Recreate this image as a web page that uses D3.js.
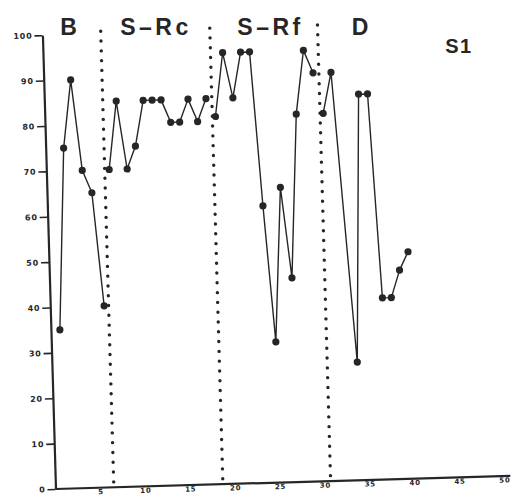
<!DOCTYPE html>
<html>
<head>
<meta charset="utf-8">
<script src="https://cdn.jsdelivr.net/npm/d3@7"></script>
<style>
  html, body { margin: 0; padding: 0; background: #fff; }
  svg { display: block; }
</style>
</head>
<body>
<svg id="chart" width="520" height="496"></svg>
<script>
// Percent correct per session, one pair of arrays per phase
const phaseNames = ["B", "S–Rc", "S–Rf", "D"];
const baselineSessions = [1, 2, 3, 4, 5, 6];
const baselineScores   = [35, 75, 90, 70, 65, 40];
const rcSessions = [7, 8, 9, 10, 11, 12, 13, 14, 15, 16, 17, 18];
const rcScores   = [70, 85, 70, 75, 85, 85, 85, 80, 80, 85, 80, 85];
const rfSessions = [19, 20, 21, 22, 23, 24, 25, 26, 27, 28, 29, 30];
const rfScores   = [81, 95, 85, 95, 95, 61, 31, 65, 45, 81, 95, 90];
const dSessions  = [31, 32, 34, 35, 36, 37, 38, 39, 40];
const dScores    = [81, 90, 26, 85, 85, 40, 40, 46, 50];
// Phase-change lines fall between sessions
const phaseChanges = [6.5, 18.65, 30.65];
const xTicks = [5, 10, 15, 20, 25, 30, 35, 40, 45, 50];
const yTicks = [0, 10, 20, 30, 40, 50, 60, 70, 80, 90, 100];
const subjectLabel = "S1";

const ink = "#262626";
const svg = d3.select("#chart");
const W = 449, H = 454;

// The hand-ruled axes sit slightly tilted on the page
const plot = svg.append("g")
  .attr("transform", "translate(55.5,489) rotate(-1.65) translate(0,-454)");

const x = d3.scaleLinear().domain([0, 50]).range([0, W]);
const y = d3.scaleLinear().domain([0, 100]).range([H, 0]);

const tickFont = (g, size) => g.selectAll("text")
  .attr("fill", ink)
  .style("font-family", "'DejaVu Sans', sans-serif")
  .style("font-weight", "bold")
  .style("font-size", size)
  .style("letter-spacing", "0.8px");

// x axis
const xAxis = plot.append("g")
  .attr("transform", `translate(0,${H})`)
  .call(d3.axisBottom(x).tickValues(xTicks).tickSize(0).tickPadding(1.5).tickFormat(d3.format("d")));
xAxis.select(".domain").remove();
tickFont(xAxis, "7px");
plot.append("line")
  .attr("x1", x(0)).attr("x2", x(50) + 6)
  .attr("y1", y(0)).attr("y2", y(0))
  .attr("stroke", ink).attr("stroke-width", 2.2);

// y axis
const yAxis = plot.append("g")
  .call(d3.axisLeft(y).tickValues(yTicks).tickSize(8).tickSizeOuter(0).tickPadding(2).tickFormat(d3.format("d")));
yAxis.select(".domain").attr("stroke", ink).attr("stroke-width", 2.2);
yAxis.selectAll(".tick line").attr("stroke", ink).attr("stroke-width", 1.6);
tickFont(yAxis, "8px");

// dotted phase-change lines
plot.selectAll(".phase-change")
  .data(phaseChanges)
  .join("line")
  .attr("class", "phase-change")
  .attr("x1", d => x(d)).attr("x2", d => x(d))
  .attr("y1", y(100.5)).attr("y2", y(0))
  .attr("stroke", ink)
  .attr("stroke-width", 3.4)
  .attr("stroke-linecap", "round")
  .attr("stroke-dasharray", "0 9.8");

// data paths, one per phase (not joined across phase lines)
const phases = [
  d3.zip(baselineSessions, baselineScores),
  d3.zip(rcSessions, rcScores),
  d3.zip(rfSessions, rfScores),
  d3.zip(dSessions, dScores)
];
const line = d3.line().x(d => x(d[0])).y(d => y(d[1]));

phases.forEach(pts => {
  plot.append("path")
    .datum(pts)
    .attr("d", line)
    .attr("fill", "none")
    .attr("stroke", ink)
    .attr("stroke-width", 1.4)
    .attr("stroke-linejoin", "round");
  plot.append("g")
    .selectAll("circle")
    .data(pts)
    .join("circle")
    .attr("cx", d => x(d[0]))
    .attr("cy", d => y(d[1]))
    .attr("r", 3.6)
    .attr("fill", ink);
});

// phase headings and subject label
const headingX = [68.5, 156, 270.5, 360];
svg.selectAll(".phase-name")
  .data(phaseNames)
  .join("text")
  .attr("class", "phase-name")
  .attr("x", (d, i) => headingX[i])
  .attr("y", 35)
  .attr("text-anchor", "middle")
  .attr("fill", ink)
  .style("font-family", "'Liberation Sans', Arial, sans-serif")
  .style("font-weight", "bold")
  .style("font-size", "23px")
  .style("letter-spacing", d => d.length > 1 ? "3.5px" : "0px")
  .text(d => d);

svg.append("text")
  .attr("x", 459)
  .attr("y", 53)
  .attr("text-anchor", "middle")
  .attr("fill", ink)
  .style("font-family", "'Liberation Sans', Arial, sans-serif")
  .style("font-weight", "bold")
  .style("font-size", "20px")
  .style("letter-spacing", "1.5px")
  .text(subjectLabel);
</script>
</body>
</html>
